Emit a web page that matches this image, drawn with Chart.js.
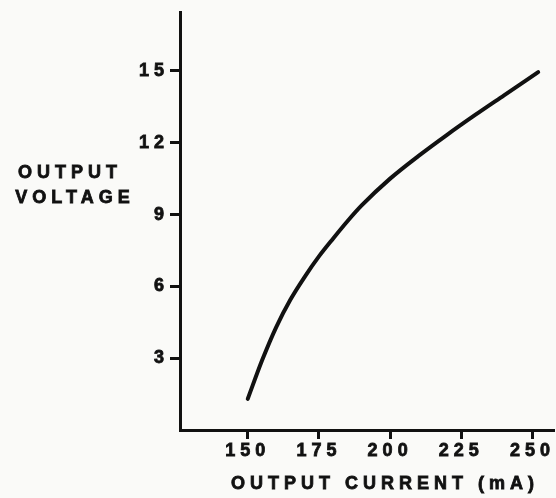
<!DOCTYPE html>
<html>
<head>
<meta charset="utf-8">
<script src="https://cdn.jsdelivr.net/npm/chart.js@4"></script>
<style>
  html, body { margin: 0; padding: 0; background: #fafaf8; }
  canvas { display: block; }
</style>
</head>
<body>
<canvas id="curveChart" width="556" height="498"></canvas>
<script>
// values
const currentMA = [150, 155, 160, 165, 170, 175, 180, 185, 190, 200, 210, 220, 230, 240, 252];
const voltageV = [1.3, 2.9, 4.3, 5.45, 6.4, 7.25, 8.0, 8.72, 9.38, 10.5, 11.45, 12.33, 13.17, 13.98, 14.95];
const xTicks = [150, 175, 200, 225, 250];
const yTicks = [3, 6, 9, 12, 15];
const xTitle = "OUTPUT CURRENT (mA)";
const yTitle = ["OUTPUT", "VOLTAGE"];

const FONT = "'Liberation Sans', Arial, sans-serif";
const INK = "#111";

// chart.js has no letter spacing option, so set it on the context
const spacing = {
  id: "spacing",
  beforeUpdate(chart) { chart.ctx.letterSpacing = "5px"; },
  beforeLayout(chart) { chart.ctx.letterSpacing = "5px"; },
  beforeDraw(chart) { chart.ctx.letterSpacing = "5px"; },
};

// axis titles sit horizontally in the original
const titles = {
  id: "titles",
  afterDraw(chart) {
    const ctx = chart.ctx;
    const area = chart.chartArea;
    ctx.save();
    ctx.letterSpacing = "5px";
    ctx.fillStyle = INK;
    ctx.strokeStyle = INK;
    ctx.lineWidth = 0.8;
    ctx.font = "bold 18px " + FONT;
    ctx.textAlign = "center";
    ctx.textBaseline = "middle";
    const lines = [
      [yTitle[0], 70, 173],
      [yTitle[1], 75, 198],
      [xTitle, area.left + 205, area.bottom + 54],
    ];
    lines.forEach(([t, x, y]) => {
      ctx.fillText(t, x, y);
      ctx.strokeText(t, x, y);
    });
    ctx.restore();
  },
};

const tickFont = { family: FONT, size: 18, weight: "bold" };

const ctx = document.getElementById("curveChart").getContext("2d");

const myChart = new Chart(ctx, {
  type: "line",
  data: {
    datasets: [
      {
        data: currentMA.map((x, i) => ({ x: x, y: voltageV[i] })),
        borderColor: INK,
        borderWidth: 4,
        borderCapStyle: "round",
        cubicInterpolationMode: "monotone",
        pointRadius: 0,
        fill: false,
      },
    ],
  },
  options: {
    responsive: false,
    animation: false,
    layout: { padding: { top: 12, right: 0, left: 0, bottom: 0 } },
    scales: {
      x: {
        type: "linear",
        min: 126.2,
        max: 257.7,
        afterBuildTicks: (scale) => { scale.ticks = xTicks.map((v) => ({ value: v })); },
        afterFit: (scale) => { scale.height = 68; },
        border: { display: true, color: INK, width: 3 },
        grid: { drawOnChartArea: false, color: INK, tickColor: INK, tickLength: 9, tickWidth: 3 },
        ticks: {
          color: INK,
          padding: 1,
          maxRotation: 0,
          textStrokeColor: INK,
          textStrokeWidth: 0.8,
          font: tickFont,
        },
      },
      y: {
        min: 0,
        max: 17.46,
        afterBuildTicks: (scale) => { scale.ticks = yTicks.map((v) => ({ value: v })); },
        afterFit: (scale) => { scale.width = 180; },
        border: { display: true, color: INK, width: 3 },
        grid: { drawOnChartArea: false, color: INK, tickColor: INK, tickLength: 10, tickWidth: 3 },
        ticks: {
          color: INK,
          padding: 1,
          textStrokeColor: INK,
          textStrokeWidth: 0.8,
          font: tickFont,
        },
      },
    },
    plugins: {
      legend: { display: false },
      tooltip: { enabled: false },
    },
  },
  plugins: [spacing, titles],
});
</script>
</body>
</html>
